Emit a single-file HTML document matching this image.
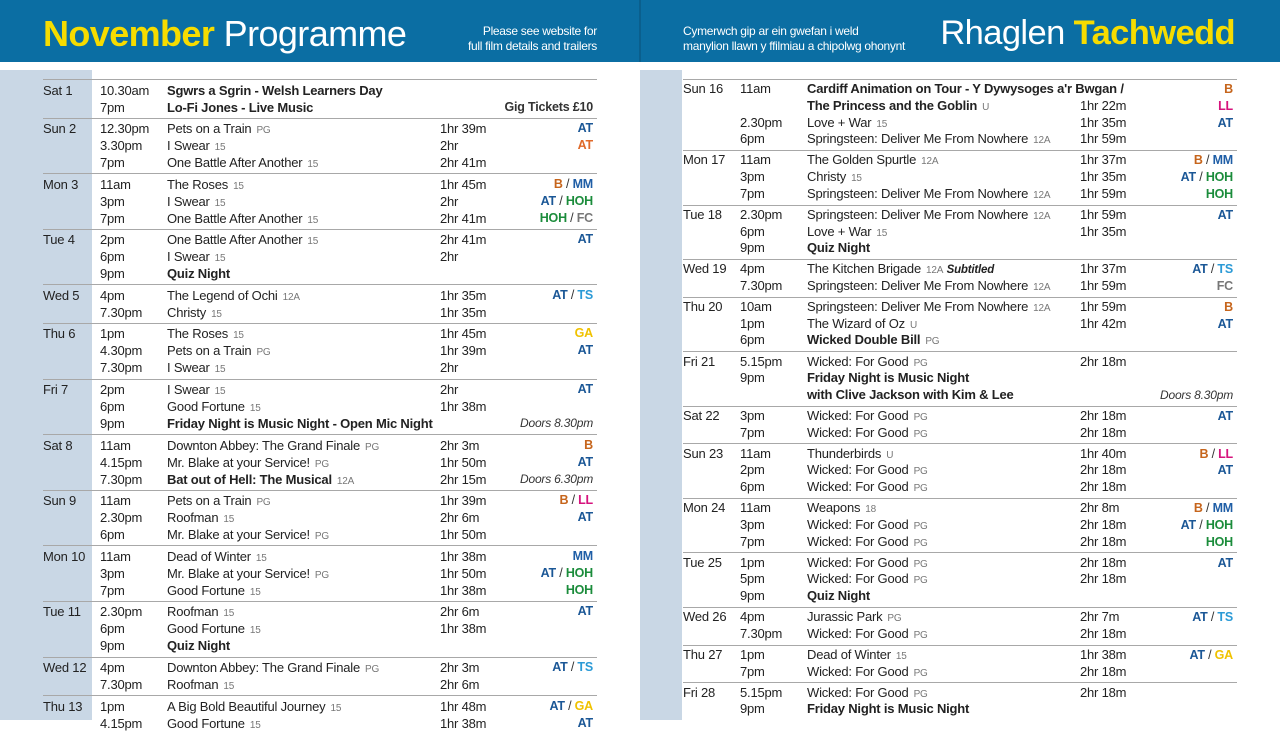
<!DOCTYPE html>
<html><head><meta charset="utf-8"><style>
*{margin:0;padding:0;box-sizing:border-box}
body{width:1280px;height:720px;overflow:hidden;background:#fff;font-family:"Liberation Sans",sans-serif;color:#222;position:relative}
.hdr{position:absolute;top:0;height:62px;background:#0b6ea3}
.side{position:absolute;top:70px;bottom:0;background:#c9d7e5}
.big{position:absolute;top:13px;font-size:36px;color:#fff;letter-spacing:-0.6px;white-space:nowrap}
.big b{color:#f6dc00}
.sm{position:absolute;top:24px;font-size:12px;line-height:15px;color:#fff;letter-spacing:-0.3px}
.col{position:absolute;top:79px;width:554px}
.blk{border-top:1px solid #a8a8a8;padding:1.5px 0 2.1px}
.row{height:17px;line-height:17px;font-size:13px;position:relative;white-space:nowrap;letter-spacing:-0.2px}
.R .blk{padding:1.3px 0 2.1px}
.R .row{height:16.7px;line-height:16.7px}
.row span{position:absolute;top:0}
.d{left:0}.t{left:57px}.f{left:124px}.u{left:397px}.c{right:4px;font-weight:bold;font-size:12.5px}
.r{font-size:10px;color:#777;margin-left:5px;font-style:normal}
.bb{font-weight:bold}
.i{font-style:italic;font-weight:normal!important;color:#333;font-size:12px!important}
.AT{color:#1b5796}.B{color:#c6651c}.MM{color:#1f5ea6}.HOH{color:#1b8c3b}.FC{color:#777}.TS{color:#2b9ad6}.GA{color:#f0c200}.LL{color:#d6137d}.s{color:#333;font-weight:normal}
</style></head><body>
<div class="hdr" style="left:0;width:639px"></div>
<div class="hdr" style="left:641px;width:639px"></div>
<div style="position:absolute;left:639px;top:0;width:2px;height:62px;background:#0a5f8d"></div>
<div class="big" style="left:43px"><b>November</b> Programme</div>
<div class="sm" style="right:683px;text-align:right">Please see website for<br>full film details and trailers</div>
<div class="sm" style="left:683px">Cymerwch gip ar ein gwefan i weld<br>manylion llawn y ffilmiau a chipolwg ohonynt</div>
<div class="big" style="right:45px;font-size:34.5px;top:14px">Rhaglen <b>Tachwedd</b></div>
<div class="side" style="left:0;width:92px"></div>
<div class="side" style="left:640px;width:42px"></div>

<div class="col" style="left:43px">
<div class="blk">
<div class="row"><span class="d">Sat 1</span><span class="t">10.30am</span><span class="f bb">Sgwrs a Sgrin - Welsh Learners Day</span></div>
<div class="row"><span class="t">7pm</span><span class="f bb">Lo-Fi Jones - Live Music</span><span class="c" style="color:#333">Gig Tickets £10</span></div></div>
<div class="blk">
<div class="row"><span class="d">Sun 2</span><span class="t">12.30pm</span><span class="f">Pets on a Train<i class="r">PG</i></span><span class="u">1hr 39m</span><span class="c AT">AT</span></div>
<div class="row"><span class="t">3.30pm</span><span class="f">I Swear<i class="r">15</i></span><span class="u">2hr</span><span class="c" style="color:#e06a2a">AT</span></div>
<div class="row"><span class="t">7pm</span><span class="f">One Battle After Another<i class="r">15</i></span><span class="u">2hr 41m</span></div></div>
<div class="blk">
<div class="row"><span class="d">Mon 3</span><span class="t">11am</span><span class="f">The Roses<i class="r">15</i></span><span class="u">1hr 45m</span><span class="c"><b class="B">B</b><b class="s"> / </b><b class="MM">MM</b></span></div>
<div class="row"><span class="t">3pm</span><span class="f">I Swear<i class="r">15</i></span><span class="u">2hr</span><span class="c"><b class="AT">AT</b><b class="s"> / </b><b class="HOH">HOH</b></span></div>
<div class="row"><span class="t">7pm</span><span class="f">One Battle After Another<i class="r">15</i></span><span class="u">2hr 41m</span><span class="c"><b class="HOH">HOH</b><b class="s"> / </b><b class="FC">FC</b></span></div></div>
<div class="blk">
<div class="row"><span class="d">Tue 4</span><span class="t">2pm</span><span class="f">One Battle After Another<i class="r">15</i></span><span class="u">2hr 41m</span><span class="c AT">AT</span></div>
<div class="row"><span class="t">6pm</span><span class="f">I Swear<i class="r">15</i></span><span class="u">2hr</span></div>
<div class="row"><span class="t">9pm</span><span class="f bb">Quiz Night</span></div></div>
<div class="blk">
<div class="row"><span class="d">Wed 5</span><span class="t">4pm</span><span class="f">The Legend of Ochi<i class="r">12A</i></span><span class="u">1hr 35m</span><span class="c"><b class="AT">AT</b><b class="s"> / </b><b class="TS">TS</b></span></div>
<div class="row"><span class="t">7.30pm</span><span class="f">Christy<i class="r">15</i></span><span class="u">1hr 35m</span></div></div>
<div class="blk">
<div class="row"><span class="d">Thu 6</span><span class="t">1pm</span><span class="f">The Roses<i class="r">15</i></span><span class="u">1hr 45m</span><span class="c GA">GA</span></div>
<div class="row"><span class="t">4.30pm</span><span class="f">Pets on a Train<i class="r">PG</i></span><span class="u">1hr 39m</span><span class="c AT">AT</span></div>
<div class="row"><span class="t">7.30pm</span><span class="f">I Swear<i class="r">15</i></span><span class="u">2hr</span></div></div>
<div class="blk">
<div class="row"><span class="d">Fri 7</span><span class="t">2pm</span><span class="f">I Swear<i class="r">15</i></span><span class="u">2hr</span><span class="c AT">AT</span></div>
<div class="row"><span class="t">6pm</span><span class="f">Good Fortune<i class="r">15</i></span><span class="u">1hr 38m</span></div>
<div class="row"><span class="t">9pm</span><span class="f bb">Friday Night is Music Night - Open Mic Night</span><span class="c i">Doors 8.30pm</span></div></div>
<div class="blk">
<div class="row"><span class="d">Sat 8</span><span class="t">11am</span><span class="f">Downton Abbey: The Grand Finale<i class="r">PG</i></span><span class="u">2hr 3m</span><span class="c B">B</span></div>
<div class="row"><span class="t">4.15pm</span><span class="f">Mr. Blake at your Service!<i class="r">PG</i></span><span class="u">1hr 50m</span><span class="c AT">AT</span></div>
<div class="row"><span class="t">7.30pm</span><span class="f"><b>Bat out of Hell: The Musical</b><i class="r">12A</i></span><span class="u">2hr 15m</span><span class="c i">Doors 6.30pm</span></div></div>
<div class="blk">
<div class="row"><span class="d">Sun 9</span><span class="t">11am</span><span class="f">Pets on a Train<i class="r">PG</i></span><span class="u">1hr 39m</span><span class="c"><b class="B">B</b><b class="s"> / </b><b class="LL">LL</b></span></div>
<div class="row"><span class="t">2.30pm</span><span class="f">Roofman<i class="r">15</i></span><span class="u">2hr 6m</span><span class="c AT">AT</span></div>
<div class="row"><span class="t">6pm</span><span class="f">Mr. Blake at your Service!<i class="r">PG</i></span><span class="u">1hr 50m</span></div></div>
<div class="blk">
<div class="row"><span class="d">Mon 10</span><span class="t">11am</span><span class="f">Dead of Winter<i class="r">15</i></span><span class="u">1hr 38m</span><span class="c MM">MM</span></div>
<div class="row"><span class="t">3pm</span><span class="f">Mr. Blake at your Service!<i class="r">PG</i></span><span class="u">1hr 50m</span><span class="c"><b class="AT">AT</b><b class="s"> / </b><b class="HOH">HOH</b></span></div>
<div class="row"><span class="t">7pm</span><span class="f">Good Fortune<i class="r">15</i></span><span class="u">1hr 38m</span><span class="c HOH">HOH</span></div></div>
<div class="blk">
<div class="row"><span class="d">Tue 11</span><span class="t">2.30pm</span><span class="f">Roofman<i class="r">15</i></span><span class="u">2hr 6m</span><span class="c AT">AT</span></div>
<div class="row"><span class="t">6pm</span><span class="f">Good Fortune<i class="r">15</i></span><span class="u">1hr 38m</span></div>
<div class="row"><span class="t">9pm</span><span class="f bb">Quiz Night</span></div></div>
<div class="blk">
<div class="row"><span class="d">Wed 12</span><span class="t">4pm</span><span class="f">Downton Abbey: The Grand Finale<i class="r">PG</i></span><span class="u">2hr 3m</span><span class="c"><b class="AT">AT</b><b class="s"> / </b><b class="TS">TS</b></span></div>
<div class="row"><span class="t">7.30pm</span><span class="f">Roofman<i class="r">15</i></span><span class="u">2hr 6m</span></div></div>
<div class="blk">
<div class="row"><span class="d">Thu 13</span><span class="t">1pm</span><span class="f">A Big Bold Beautiful Journey<i class="r">15</i></span><span class="u">1hr 48m</span><span class="c"><b class="AT">AT</b><b class="s"> / </b><b class="GA">GA</b></span></div>
<div class="row"><span class="t">4.15pm</span><span class="f">Good Fortune<i class="r">15</i></span><span class="u">1hr 38m</span><span class="c AT">AT</span></div></div>
</div>

<div class="col R" style="left:683px">
<div class="blk">
<div class="row"><span class="d">Sun 16</span><span class="t">11am</span><span class="f bb">Cardiff Animation on Tour - Y Dywysoges a'r Bwgan /</span><span class="c B">B</span></div>
<div class="row"><span class="f"><b>The Princess and the Goblin</b><i class="r">U</i></span><span class="u">1hr 22m</span><span class="c LL">LL</span></div>
<div class="row"><span class="t">2.30pm</span><span class="f">Love + War<i class="r">15</i></span><span class="u">1hr 35m</span><span class="c AT">AT</span></div>
<div class="row"><span class="t">6pm</span><span class="f">Springsteen: Deliver Me From Nowhere<i class="r">12A</i></span><span class="u">1hr 59m</span></div></div>
<div class="blk">
<div class="row"><span class="d">Mon 17</span><span class="t">11am</span><span class="f">The Golden Spurtle<i class="r">12A</i></span><span class="u">1hr 37m</span><span class="c"><b class="B">B</b><b class="s"> / </b><b class="MM">MM</b></span></div>
<div class="row"><span class="t">3pm</span><span class="f">Christy<i class="r">15</i></span><span class="u">1hr 35m</span><span class="c"><b class="AT">AT</b><b class="s"> / </b><b class="HOH">HOH</b></span></div>
<div class="row"><span class="t">7pm</span><span class="f">Springsteen: Deliver Me From Nowhere<i class="r">12A</i></span><span class="u">1hr 59m</span><span class="c HOH">HOH</span></div></div>
<div class="blk">
<div class="row"><span class="d">Tue 18</span><span class="t">2.30pm</span><span class="f">Springsteen: Deliver Me From Nowhere<i class="r">12A</i></span><span class="u">1hr 59m</span><span class="c AT">AT</span></div>
<div class="row"><span class="t">6pm</span><span class="f">Love + War<i class="r">15</i></span><span class="u">1hr 35m</span></div>
<div class="row"><span class="t">9pm</span><span class="f bb">Quiz Night</span></div></div>
<div class="blk">
<div class="row"><span class="d">Wed 19</span><span class="t">4pm</span><span class="f">The Kitchen Brigade<i class="r">12A</i> <b><i style="font-size:11.5px">Subtitled</i></b></span><span class="u">1hr 37m</span><span class="c"><b class="AT">AT</b><b class="s"> / </b><b class="TS">TS</b></span></div>
<div class="row"><span class="t">7.30pm</span><span class="f">Springsteen: Deliver Me From Nowhere<i class="r">12A</i></span><span class="u">1hr 59m</span><span class="c FC">FC</span></div></div>
<div class="blk">
<div class="row"><span class="d">Thu 20</span><span class="t">10am</span><span class="f">Springsteen: Deliver Me From Nowhere<i class="r">12A</i></span><span class="u">1hr 59m</span><span class="c B">B</span></div>
<div class="row"><span class="t">1pm</span><span class="f">The Wizard of Oz<i class="r">U</i></span><span class="u">1hr 42m</span><span class="c AT">AT</span></div>
<div class="row"><span class="t">6pm</span><span class="f"><b>Wicked Double Bill</b><i class="r">PG</i></span></div></div>
<div class="blk">
<div class="row"><span class="d">Fri 21</span><span class="t">5.15pm</span><span class="f">Wicked: For Good<i class="r">PG</i></span><span class="u">2hr 18m</span></div>
<div class="row"><span class="t">9pm</span><span class="f bb">Friday Night is Music Night</span></div>
<div class="row"><span class="f bb">with Clive Jackson with Kim &amp; Lee</span><span class="c i">Doors 8.30pm</span></div></div>
<div class="blk">
<div class="row"><span class="d">Sat 22</span><span class="t">3pm</span><span class="f">Wicked: For Good<i class="r">PG</i></span><span class="u">2hr 18m</span><span class="c AT">AT</span></div>
<div class="row"><span class="t">7pm</span><span class="f">Wicked: For Good<i class="r">PG</i></span><span class="u">2hr 18m</span></div></div>
<div class="blk">
<div class="row"><span class="d">Sun 23</span><span class="t">11am</span><span class="f">Thunderbirds<i class="r">U</i></span><span class="u">1hr 40m</span><span class="c"><b class="B">B</b><b class="s"> / </b><b class="LL">LL</b></span></div>
<div class="row"><span class="t">2pm</span><span class="f">Wicked: For Good<i class="r">PG</i></span><span class="u">2hr 18m</span><span class="c AT">AT</span></div>
<div class="row"><span class="t">6pm</span><span class="f">Wicked: For Good<i class="r">PG</i></span><span class="u">2hr 18m</span></div></div>
<div class="blk">
<div class="row"><span class="d">Mon 24</span><span class="t">11am</span><span class="f">Weapons<i class="r">18</i></span><span class="u">2hr 8m</span><span class="c"><b class="B">B</b><b class="s"> / </b><b class="MM">MM</b></span></div>
<div class="row"><span class="t">3pm</span><span class="f">Wicked: For Good<i class="r">PG</i></span><span class="u">2hr 18m</span><span class="c"><b class="AT">AT</b><b class="s"> / </b><b class="HOH">HOH</b></span></div>
<div class="row"><span class="t">7pm</span><span class="f">Wicked: For Good<i class="r">PG</i></span><span class="u">2hr 18m</span><span class="c HOH">HOH</span></div></div>
<div class="blk">
<div class="row"><span class="d">Tue 25</span><span class="t">1pm</span><span class="f">Wicked: For Good<i class="r">PG</i></span><span class="u">2hr 18m</span><span class="c AT">AT</span></div>
<div class="row"><span class="t">5pm</span><span class="f">Wicked: For Good<i class="r">PG</i></span><span class="u">2hr 18m</span></div>
<div class="row"><span class="t">9pm</span><span class="f bb">Quiz Night</span></div></div>
<div class="blk">
<div class="row"><span class="d">Wed 26</span><span class="t">4pm</span><span class="f">Jurassic Park<i class="r">PG</i></span><span class="u">2hr 7m</span><span class="c"><b class="AT">AT</b><b class="s"> / </b><b class="TS">TS</b></span></div>
<div class="row"><span class="t">7.30pm</span><span class="f">Wicked: For Good<i class="r">PG</i></span><span class="u">2hr 18m</span></div></div>
<div class="blk">
<div class="row"><span class="d">Thu 27</span><span class="t">1pm</span><span class="f">Dead of Winter<i class="r">15</i></span><span class="u">1hr 38m</span><span class="c"><b class="AT">AT</b><b class="s"> / </b><b class="GA">GA</b></span></div>
<div class="row"><span class="t">7pm</span><span class="f">Wicked: For Good<i class="r">PG</i></span><span class="u">2hr 18m</span></div></div>
<div class="blk">
<div class="row"><span class="d">Fri 28</span><span class="t">5.15pm</span><span class="f">Wicked: For Good<i class="r">PG</i></span><span class="u">2hr 18m</span></div>
<div class="row"><span class="t">9pm</span><span class="f bb">Friday Night is Music Night</span></div></div>
</div>
</body></html>
